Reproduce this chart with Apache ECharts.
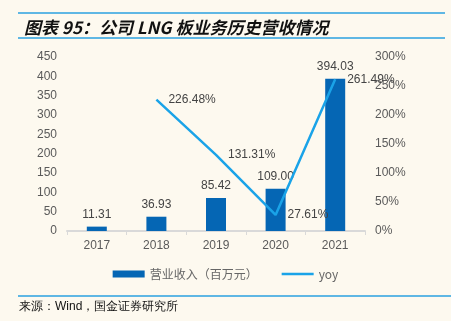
<!DOCTYPE html>
<html><head><meta charset="utf-8">
<script src="https://cdn.jsdelivr.net/npm/echarts@6/dist/echarts.min.js"></script>
<style>html,body{margin:0;padding:0;background:#fdf9ef;}#c{width:451px;height:321px;}</style>
</head><body><div id="c"></div>
<script>
const categories = ['2017','2018','2019','2020','2021'];
const revenue = [11.31, 36.93, 85.42, 109.00, 394.03];
const yoy = [null, 226.48, 131.31, 27.61, 261.49];
const leftTicks = [0, 450, 50];
const rightTicks = [0, 300, 50];

const chart = echarts.init(document.getElementById('c'), null, {renderer:'canvas'});
const font = '"Liberation Sans", Arial, sans-serif';
chart.setOption({
  backgroundColor: '#fdf9ef',
  animation: false,
  title: {
    text: '图表 95：公司 LNG 板业务历史营收情况',
    left: 19, top: 14,
    textStyle: {fontSize: 17, fontWeight: 'bold', fontStyle: 'italic', color: '#111', fontFamily: '"Noto Sans CJK SC", sans-serif'}
  },
  graphic: [
    {type:'line', shape:{x1:18,y1:13,x2:445,y2:13}, style:{stroke:'#2aa0e0', lineWidth:1.5}},
    {type:'line', shape:{x1:18,y1:38,x2:445,y2:38}, style:{stroke:'#2aa0e0', lineWidth:1.5}},
    {type:'line', shape:{x1:18,y1:296,x2:451,y2:296}, style:{stroke:'#2aa0e0', lineWidth:1.5}},
    {type:'text', left:19, top:301, style:{text:'来源：Wind，国金证券研究所', fontSize:12, fill:'#111', font:'12px "Noto Sans CJK SC", sans-serif'}}
  ],
  grid: {left: 67, right: 86, top: 57, bottom: 90},
  legend: {
    bottom: 36, left: 'center',
    itemWidth: 32, itemHeight: 7, itemGap: 24,
    textStyle: {fontSize: 12, color: '#666', fontFamily: '"Noto Sans CJK SC", sans-serif'},
    data: [
      {name: '营业收入（百万元）', icon: 'rect'},
      {name: 'yoy', icon: 'path://M0,0 L32,0 L32,2.5 L0,2.5 Z', itemStyle: {color: '#1aa3e8'}}
    ]
  },
  xAxis: {
    type: 'category', data: categories,
    axisLine: {lineStyle: {color: '#d9d9d9', width: 2}},
    axisTick: {show: true, length: 4, lineStyle:{color:'#d9d9d9'}},
    axisLabel: {color: '#5a5a5a', fontSize: 12, margin: 9, fontFamily: font}
  },
  yAxis: [
    {type: 'value', min: leftTicks[0], max: leftTicks[1], interval: leftTicks[2],
     splitLine: {show: false}, axisLine: {show: false}, axisTick:{show:false},
     axisLabel: {color: '#5a5a5a', fontSize: 12, margin: 10, fontFamily: font}},
    {type: 'value', min: rightTicks[0], max: rightTicks[1], interval: rightTicks[2],
     splitLine: {show: false}, axisLine: {show: false}, axisTick:{show:false},
     axisLabel: {color: '#5a5a5a', fontSize: 12, margin: 10, fontFamily: font, formatter: '{value}%'}}
  ],
  series: [
    {name: '营业收入（百万元）', type: 'bar', data: revenue, barWidth: 20,
     itemStyle: {color: '#0566b4'},
     label: {show: true, position: 'top', color: '#444', fontSize: 12, fontFamily: font, distance: 6,
             formatter: p => p.value.toFixed(2)}},
    {name: 'yoy', type: 'line', yAxisIndex: 1, data: yoy, symbol: 'circle', symbolSize: 0, showSymbol: true,
     lineStyle: {color: '#1aa3e8', width: 2.5}, itemStyle:{color:'#1aa3e8'},
     label: {show: true, position: 'right', color: '#444', fontSize: 12, fontFamily: font, distance: 12,
             formatter: p => p.value.toFixed(2) + '%'}}
  ]
});
</script></body></html>
